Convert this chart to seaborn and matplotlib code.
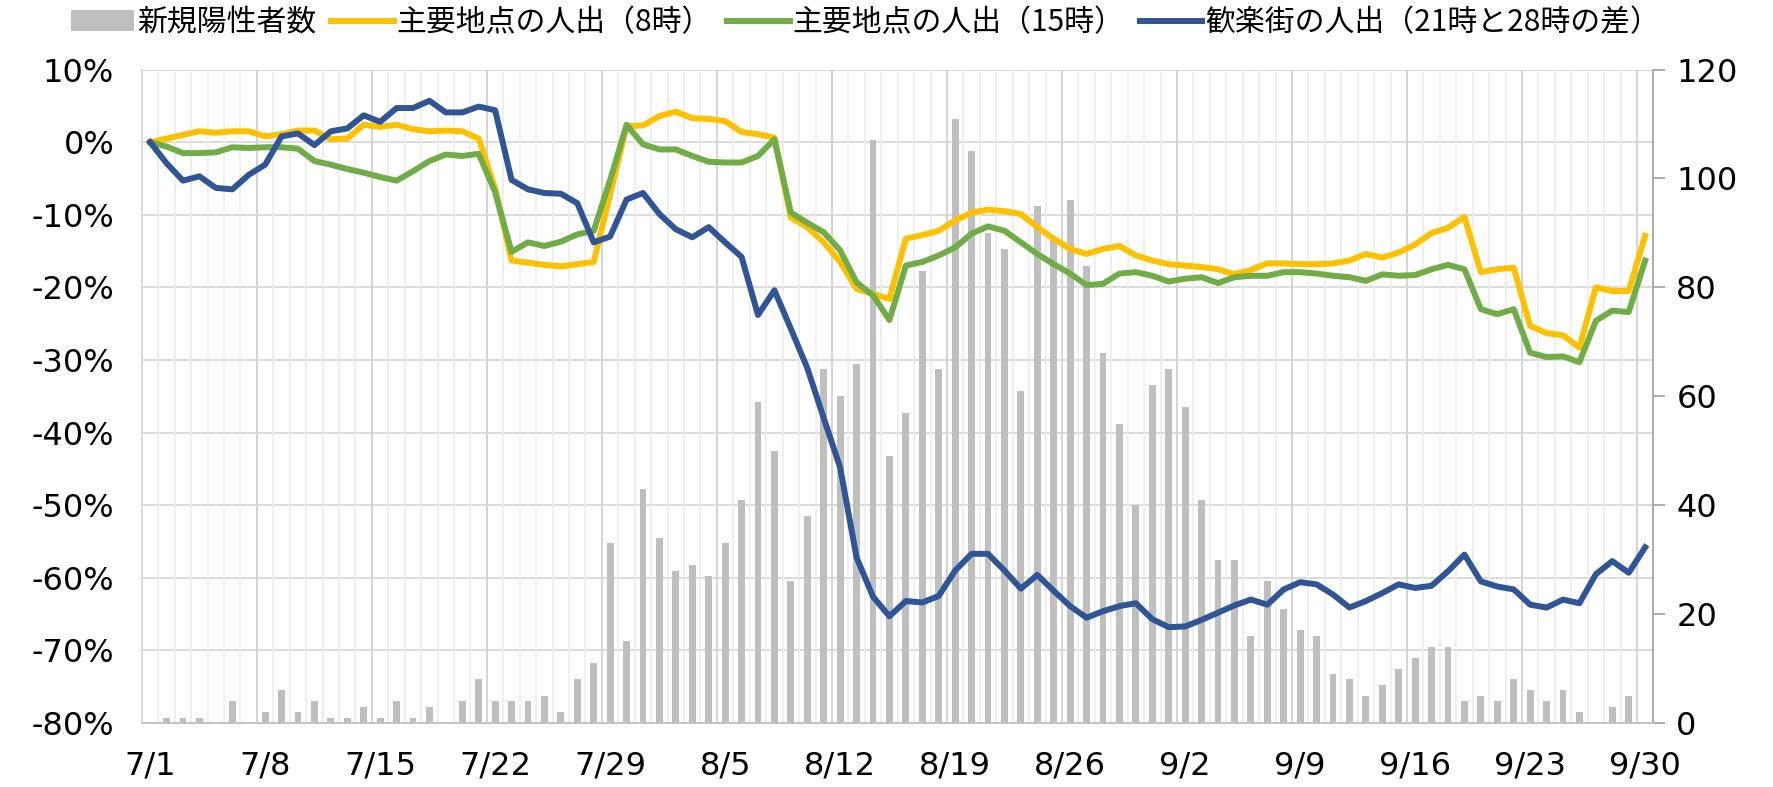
import numpy as np
import pandas as pd
import seaborn as sns
import matplotlib.pyplot as plt

# 2020/7/1 - 9/30, daily
dates = pd.date_range("2020-07-01", "2020-09-30", freq="D")

# new positive cases (right axis)
new_cases = [
    0, 1, 1, 1, 0, 4, 0, 2, 6, 2, 4, 1, 1, 3, 1, 4, 1, 3, 0, 4, 8, 4, 4, 4, 5, 2, 8, 11, 33, 15, 43,
    34, 28, 29, 27, 33, 41, 59, 50, 26, 38, 65, 60, 66, 107, 49, 57, 83, 65, 111, 105, 90, 87, 61, 95, 89, 96, 84, 68, 55, 40, 62,
    65, 58, 41, 30, 30, 16, 26, 21, 17, 16, 9, 8, 5, 7, 10, 12, 14, 14, 4, 5, 4, 8, 6, 4, 6, 2, 0, 3, 5, 0,
]

# 主要地点の人出（8時） %
flow_8 = [
    0, 0.5, 1.0, 1.5, 1.3, 1.5, 1.5, 0.8, 1.1, 1.6, 1.6, 0.4, 0.5, 2.4, 2.1, 2.4, 1.8, 1.5, 1.6, 1.5, 0.5,
    -6.4,
    -16.3, -16.6, -16.9, -17.1, -16.8, -16.5,
    -7.2,
    2.2, 2.3, 3.6, 4.2, 3.3, 3.2, 2.9, 1.4, 1.1, 0.6,
    -10.4, -11.7, -13.8, -16.5, -20.2, -20.9, -21.6,
    -13.3, -12.8, -12.2, -10.8, -9.7, -9.3, -9.5, -9.9, -11.7, -13.3, -14.7, -15.4, -14.7, -14.3, -15.6, -16.3,
    -16.8, -17.0, -17.2, -17.5, -18.2, -17.6, -16.7,
    -16.7, -16.8, -16.8, -16.7, -16.3, -15.4, -15.9, -15.2, -14.1, -12.5, -11.8, -10.3, -17.9, -17.5, -17.3,
    -25.3, -26.3, -26.6, -28.3, -20.0, -20.5, -20.5, -12.9,
]

# 主要地点の人出（15時） %
flow_15 = [
    0, -0.6, -1.5, -1.5, -1.4, -0.7, -0.8, -0.7, -0.7, -0.9, -2.6, -3.1, -3.7, -4.2, -4.8, -5.3, -4.0, -2.6, -1.7, -1.9, -1.6,
    -6.9,
    -15.1, -13.8, -14.3, -13.7, -12.7, -12.2,
    -5.2,
    2.4, -0.3, -1.0, -1.0, -1.9, -2.7, -2.8, -2.8, -1.9, 0.4,
    -9.7, -11.1, -12.4, -14.9, -19.3, -21.1, -24.5,
    -17.0, -16.5, -15.6, -14.5, -12.6, -11.6, -12.2, -13.8, -15.4, -16.8, -18.1, -19.7, -19.5, -18.1, -17.9, -18.4,
    -19.2, -18.8, -18.6, -19.4, -18.6, -18.4, -18.4,
    -17.9, -17.9, -18.1, -18.4, -18.6, -19.1, -18.2, -18.4, -18.3, -17.5, -16.9, -17.5, -23.0, -23.7, -23.0,
    -29.0, -29.6, -29.5, -30.3, -24.6, -23.2, -23.4, -16.3,
]

# 歓楽街の人出（21時と28時の差） %
nightlife = [
    0, -2.9, -5.3, -4.7, -6.3, -6.5, -4.5, -3.1, 0.8, 1.2, -0.4, 1.5, 1.9, 3.7, 2.8, 4.7, 4.7, 5.7, 4.1, 4.1, 4.9, 4.4,
    -5.2, -6.5, -7.0, -7.1, -8.4, -13.8,
    -13.0, -7.9, -7.0, -9.9, -12.0, -13.1, -11.7, -13.8, -15.8, -23.8, -20.4, -25.7, -31.1, -38.0, -44.8, -57.2, -62.6,
    -65.3, -63.2, -63.4, -62.5, -59.0, -56.7, -56.7, -59.0, -61.5, -59.6, -61.8, -63.9, -65.5, -64.6, -63.9,
    -63.5, -65.7, -66.8, -66.7, -65.8, -64.8, -63.8, -63.0, -63.7, -61.6, -60.6, -60.9, -62.3, -64.1, -63.2, -62.1,
    -60.9, -61.4, -61.1, -59.1, -56.8, -60.5, -61.2, -61.6, -63.7, -64.1, -63.0, -63.5, -59.5, -57.7, -59.3, -55.8,
]

labels = ["新規陽性者数", "主要地点の人出（8時）", "主要地点の人出（15時）", "歓楽街の人出（21時と28時の差）"]
colors = ["#BFBFBF", "#FFC000", "#70AD47", "#2F5597"]

pct_ticks = list(range(-80, 11, 10))
cnt_ticks = list(range(0, 121, 20))

plt.rcParams["font.family"] = ["DejaVu Sans", "Noto Sans CJK JP"]

day = np.arange(len(dates))
tick_days = day[::7]
tick_labels = [f"{d.month}/{d.day}" for d in dates[::7]]

fig = plt.figure(figsize=(17.74, 7.87), dpi=100)
ax = fig.add_subplot(111)
ax_bar = ax.twinx()
fig.subplots_adjust(left=0.080, right=0.932, bottom=0.0813, top=0.9116)

# bars go underneath, lines on top
ax.set_zorder(ax_bar.get_zorder() + 1)
ax.patch.set_visible(False)

sns.barplot(x=day, y=new_cases, ax=ax_bar, color=colors[0], saturation=1, width=0.42, zorder=2)
ax_bar.containers[0].set_label(labels[0])

for vals, lab, col in zip([flow_8, flow_15, nightlife], labels[1:], colors[1:]):
    sns.lineplot(x=day, y=vals, ax=ax, color=col, lw=4.3, label=lab)

lo, hi = pct_ticks[0], pct_ticks[-1]
cmax = cnt_ticks[-1]
n = len(day)

ax.set_xlim(-0.5, n - 0.5)
ax_bar.set_xlim(-0.5, n - 0.5)
ax.set_ylim(lo, hi)
ax_bar.set_ylim(0, cmax)

# gridlines drawn on the bar axes so they stay behind the bars
grid_y = [(v - lo) / (hi - lo) * cmax for v in pct_ticks]
ax_bar.hlines(grid_y[1:], -0.5, n - 0.5, color="#D9D9D9", lw=1.3, zorder=0)
bounds = np.arange(-0.5, n, 1.0)
minor_b = [b for b in bounds[1:-1] if (b + 0.5) % 7 != 0]
major_b = [b for b in bounds[1:-1] if (b + 0.5) % 7 == 0]
ax_bar.vlines(minor_b, 0, cmax, color="#EBEBEB", lw=1.1, zorder=0)
ax_bar.vlines(major_b, 0, cmax, color="#D4D4D4", lw=1.4, zorder=0)

ax.set_yticks(pct_ticks)
ax.set_yticklabels([f"{v}%" for v in pct_ticks])
ax.set_xticks(tick_days)
ax.set_xticklabels(tick_labels)
ax.tick_params(axis="y", length=0, pad=20, labelsize=23)
ax.tick_params(axis="x", length=0, pad=20, labelsize=23)
ax.set_xlabel("")
ax.set_ylabel("")

ax_bar.set_yticks(cnt_ticks)
ax_bar.set_yticklabels([str(v) for v in cnt_ticks])
ax_bar.tick_params(axis="y", direction="out", length=8.5, width=1.3, color="#A6A6A6",
                   pad=8, labelsize=23)
ax_bar.tick_params(axis="x", length=0, labelbottom=False)
ax_bar.set_ylabel("")

for s in ["top", "right"]:
    ax.spines[s].set_visible(False)
ax.spines["left"].set_color("#D9D9D9")
ax.spines["left"].set_linewidth(1.3)
ax.spines["bottom"].set_color("#BFBFBF")
ax.spines["bottom"].set_linewidth(1.3)
for s in ["top", "left", "bottom"]:
    ax_bar.spines[s].set_visible(False)
ax_bar.spines["right"].set_color("#A6A6A6")
ax_bar.spines["right"].set_linewidth(1.3)

h1, l1 = ax_bar.get_legend_handles_labels()
h2, l2 = ax.get_legend_handles_labels()
ax.get_legend().remove()
fig.legend(h1 + h2, l1 + l2, loc="center", bbox_to_anchor=(0.488, 0.971), ncol=4,
           frameon=False, prop={"family": ["Noto Sans CJK JP"], "size": 21.5},
           handlelength=2.1, handleheight=0.7, handletextpad=0.1, columnspacing=0.5)

fig.savefig("out.png", dpi=100)
